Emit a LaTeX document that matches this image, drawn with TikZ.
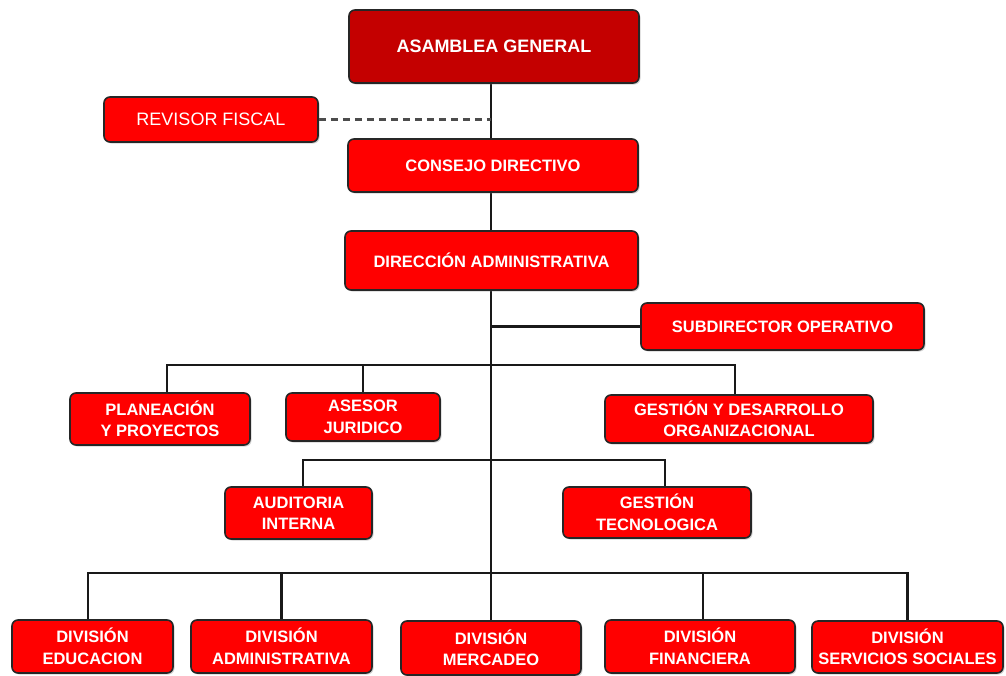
\documentclass[tikz,border=0pt]{standalone}
\usepackage{fontspec}
\setmainfont{Liberation Sans}
\usetikzlibrary{shadows,backgrounds}
\definecolor{boxred}{HTML}{FF0000}
\definecolor{darkred}{HTML}{C40000}
\begin{document}
\begin{tikzpicture}[x=1pt,y=-1pt,
  orgbox/.style={draw=black!85, line width=1.6pt, rounded corners=6pt, fill=boxred,
    text=white, font=\fontsize{16.5}{21.5}\selectfont\bfseries, align=center, inner sep=0pt,
    drop shadow={opacity=0.35, shadow xshift=1.5pt, shadow yshift=-1.5pt}},
  link/.style={line width=2.2pt, black!90},
  dlink/.style={line width=2.2pt, black!70, dash pattern=on 7pt off 5pt}]
\path[use as bounding box] (0,0) rectangle (1006,675);

\node[orgbox, fill=darkred, minimum width=290pt, minimum height=73pt,
  font=\fontsize{18}{21}\selectfont\bfseries] (asamblea) at (494,46.5) {ASAMBLEA GENERAL};
\node[orgbox, minimum width=214pt, minimum height=45pt,
  font=\fontsize{18}{21}\selectfont] (revisor) at (211,119.5) {REVISOR FISCAL};
\node[orgbox, minimum width=290pt, minimum height=53pt] (consejo) at (493,165.5) {CONSEJO DIRECTIVO};
\node[orgbox, minimum width=293pt, minimum height=59pt] (direccion) at (491.5,260.5) {DIRECCIÓN ADMINISTRATIVA};
\node[orgbox, minimum width=283pt, minimum height=47pt] (subdir) at (782.5,326.5) {SUBDIRECTOR OPERATIVO};
\node[orgbox, minimum width=180pt, minimum height=52pt] (planeacion) at (160,419) {PLANEACIÓN\\Y PROYECTOS};
\node[orgbox, minimum width=154pt, minimum height=48pt] (asesor) at (363,417) {ASESOR\\JURIDICO};
\node[orgbox, minimum width=268pt, minimum height=48pt] (gestion) at (739,419) {GESTIÓN Y DESARROLLO\\ORGANIZACIONAL};
\node[orgbox, minimum width=147pt, minimum height=52pt] (auditoria) at (298.5,513) {AUDITORIA\\INTERNA};
\node[orgbox, minimum width=188pt, minimum height=51pt] (gtec) at (657,512.5) {GESTIÓN\\TECNOLOGICA};
\node[orgbox, minimum width=161pt, minimum height=53pt] (deduc) at (92.5,646.5) {DIVISIÓN\\EDUCACION};
\node[orgbox, minimum width=181pt, minimum height=53pt] (dadmin) at (281.5,646.5) {DIVISIÓN\\ADMINISTRATIVA};
\node[orgbox, minimum width=180pt, minimum height=54pt] (dmerc) at (491,648) {DIVISIÓN\\MERCADEO};
\node[orgbox, minimum width=190pt, minimum height=53pt] (dfin) at (700,646.5) {DIVISIÓN\\FINANCIERA};
\node[orgbox, minimum width=191pt, minimum height=52pt] (dserv) at (907.5,647) {DIVISIÓN\\SERVICIOS SOCIALES};

\coordinate (b1) at (491,365);
\coordinate (b2) at (491,460);
\coordinate (b3) at (491,573);

\begin{scope}[on background layer]
\draw[link] (asamblea.south -| dmerc.north) -- (dmerc.north);
\draw[dlink] (revisor.east) -- (revisor.east -| dmerc.north);
\draw[link] (subdir.west) -- (subdir.west -| dmerc.north);
\draw[link] ([xshift=7pt]planeacion.north) |- ([xshift=-4pt]gestion.north |- b1) -- ([xshift=-4pt]gestion.north);
\draw[link] (asesor.north) -- (asesor.north |- b1);
\draw[link] ([xshift=4.5pt]auditoria.north) |- ([xshift=8pt]gtec.north |- b2) -- ([xshift=8pt]gtec.north);
\draw[link] ([xshift=-4.5pt]deduc.north) |- (dserv.north |- b3) -- (dserv.north);
\draw[link] (dadmin.north) -- (dadmin.north |- b3);
\draw[link] ([xshift=3pt]dfin.north) -- ([xshift=3pt]dfin.north |- b3);
\end{scope}
\end{tikzpicture}
\end{document}
